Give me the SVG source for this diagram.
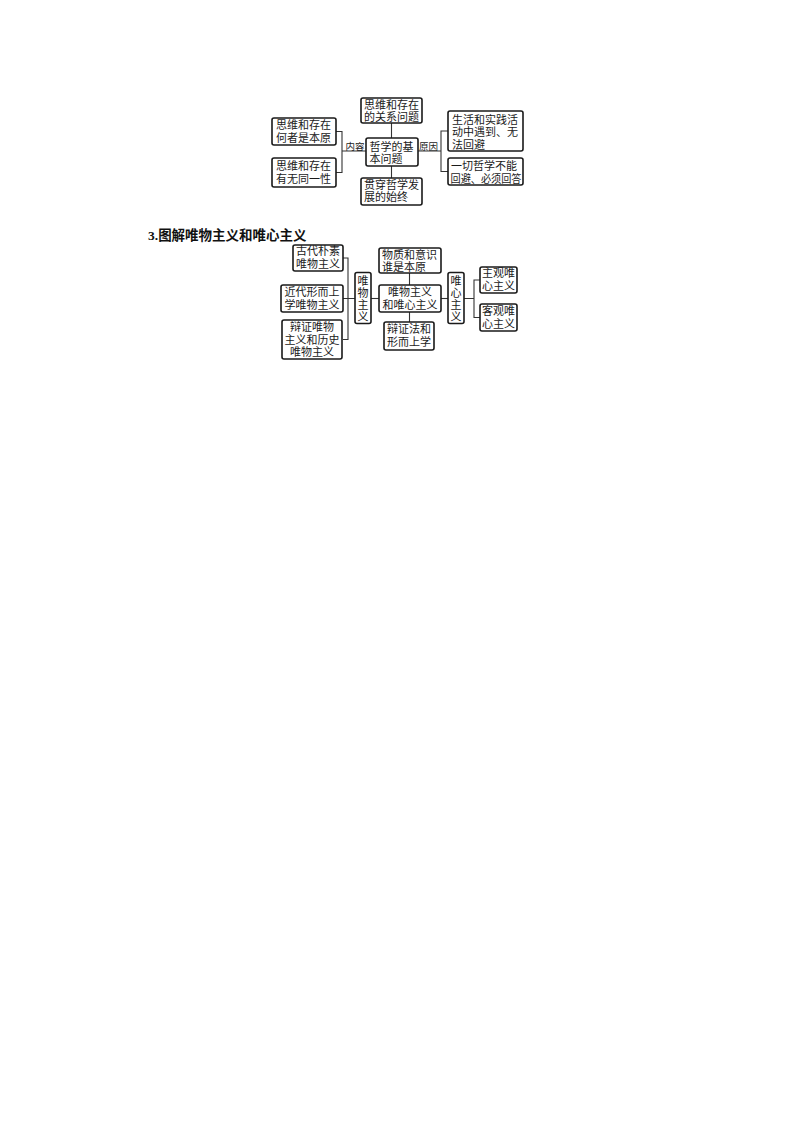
<svg xmlns="http://www.w3.org/2000/svg" width="800" height="1132" viewBox="0 0 800 1132">
<style>
.bg{fill:#ffffff}
.box{fill:#ffffff;stroke:#1a1a1a;stroke-width:1.6}
.t{font-family:"Liberation Serif","Noto Sans CJK SC",sans-serif;font-size:11px;fill:#1a1a1a}
.c{text-anchor:middle}
.lbl{font-family:"Liberation Serif","Noto Sans CJK SC",sans-serif;font-size:9.5px;fill:#1a1a1a}
.ln{fill:none;stroke:#333;stroke-width:1.1}
.title{font-family:"Liberation Serif","Noto Sans CJK SC",serif;font-size:13.5px;font-weight:bold;fill:#111}
</style>
<rect class="bg" x="0" y="0" width="800" height="1132"/>

<g id="connectors">
  <path class="ln" d="M391.5,123 V138 M391.5,166 V178"/>
  <path class="ln" d="M336,131.5 H342 V172.5 H336 M342,151 H366"/>
  <path class="ln" d="M418,151 H441 M448,131 H441 V171.5 H448"/>
  <path class="ln" d="M343,258 H348 V339.5 H343 M343,298.5 H355"/>
  <path class="ln" d="M371,298.5 H379"/>
  <path class="ln" d="M409.5,273 V285 M409.5,312 V322"/>
  <path class="ln" d="M441,298.5 H448"/>
  <path class="ln" d="M464,298.5 H474 M480,280 H474 V317.5 H480"/>
</g>

<g id="label-neirong"><text class="lbl" x="345.5" y="149.5">内容</text></g>
<g id="label-yuanyin"><text class="lbl" x="419" y="149.5">原因</text></g>

<g id="n-top">
  <rect class="box" x="361" y="98" width="61" height="25" rx="2"/>
  <text class="t"><tspan x="364" y="108.6">思维和存在</tspan><tspan x="364" y="120.8">的关系问题</tspan></text>
</g>
<g id="n-left1">
  <rect class="box" x="272" y="118" width="64" height="27" rx="2"/>
  <text class="t"><tspan x="276" y="129.3">思维和存在</tspan><tspan x="276" y="142.2">何者是本原</tspan></text>
</g>
<g id="n-left2">
  <rect class="box" x="272" y="158" width="64" height="29" rx="2"/>
  <text class="t"><tspan x="276" y="170.2">思维和存在</tspan><tspan x="276" y="182.8">有无同一性</tspan></text>
</g>
<g id="n-center">
  <rect class="box" x="366" y="138" width="52" height="28" rx="2"/>
  <text class="t"><tspan x="369.5" y="150.5">哲学的基</tspan><tspan x="369.5" y="162.9">本问题</tspan></text>
</g>
<g id="n-bottom">
  <rect class="box" x="361" y="178" width="61" height="27" rx="2"/>
  <text class="t"><tspan x="364" y="188.6">贯穿哲学发</tspan><tspan x="364" y="201.2">展的始终</tspan></text>
</g>
<g id="n-right1">
  <rect class="box" x="448" y="111" width="75" height="40" rx="2"/>
  <text class="t"><tspan x="452" y="123.8">生活和实践活</tspan><tspan x="452" y="136.2">动中遇到、无</tspan><tspan x="452" y="148.5">法回避</tspan></text>
</g>
<g id="n-right2">
  <rect class="box" x="448" y="158" width="75" height="27" rx="2"/>
  <text class="t"><tspan x="451" y="170">一切哲学不能</tspan><tspan x="450.5" y="182.6" textLength="71" lengthAdjust="spacingAndGlyphs">回避、必须回答</tspan></text>
</g>

<g id="title"><text class="title" x="148" y="240">3.图解唯物主义和唯心主义</text></g>

<g id="n-gudai">
  <rect class="box" x="293" y="245" width="50" height="26" rx="2"/>
  <text class="t c"><tspan x="318" y="255.4">古代朴素</tspan><tspan x="318" y="267.6">唯物主义</tspan></text>
</g>
<g id="n-jindai">
  <rect class="box" x="281" y="285" width="62" height="27" rx="2"/>
  <text class="t"><tspan x="284.5" y="295.6">近代形而上</tspan><tspan x="284.5" y="308.8">学唯物主义</tspan></text>
</g>
<g id="n-bianzheng">
  <rect class="box" x="282" y="320" width="60" height="39" rx="2"/>
  <text class="t c"><tspan x="312" y="331">辩证唯物</tspan><tspan x="312" y="343.6">主义和历史</tspan><tspan x="312" y="356.2">唯物主义</tspan></text>
</g>
<g id="n-weiwu">
  <rect class="box" x="355" y="272.5" width="16" height="51" rx="2"/>
  <text class="t c"><tspan x="363" y="284.8">唯</tspan><tspan x="363" y="297">物</tspan><tspan x="363" y="309.2">主</tspan><tspan x="363" y="321.4">义</tspan></text>
</g>
<g id="n-wuzhi">
  <rect class="box" x="379" y="248" width="62" height="25" rx="2"/>
  <text class="t"><tspan x="382" y="258.8">物质和意识</tspan><tspan x="382" y="271">谁是本原</tspan></text>
</g>
<g id="n-weiwuweixin">
  <rect class="box" x="379" y="285" width="62" height="27" rx="2"/>
  <text class="t c"><tspan x="410" y="296">唯物主义</tspan><tspan x="410" y="309">和唯心主义</tspan></text>
</g>
<g id="n-bianzhengfa">
  <rect class="box" x="384" y="322" width="50" height="28" rx="2"/>
  <text class="t c"><tspan x="409" y="333.4">辩证法和</tspan><tspan x="409" y="345.9">形而上学</tspan></text>
</g>
<g id="n-weixin">
  <rect class="box" x="448" y="272.5" width="16" height="51" rx="2"/>
  <text class="t c"><tspan x="456" y="284.8">唯</tspan><tspan x="456" y="297">心</tspan><tspan x="456" y="309.2">主</tspan><tspan x="456" y="321.4">义</tspan></text>
</g>
<g id="n-zhuguan">
  <rect class="box" x="480" y="267" width="37" height="26" rx="2"/>
  <text class="t"><tspan x="482" y="277.2">主观唯</tspan><tspan x="482" y="290.2">心主义</tspan></text>
</g>
<g id="n-keguan">
  <rect class="box" x="480" y="304" width="37" height="27" rx="2"/>
  <text class="t"><tspan x="482" y="315.2">客观唯</tspan><tspan x="482" y="327.6">心主义</tspan></text>
</g>
</svg>
